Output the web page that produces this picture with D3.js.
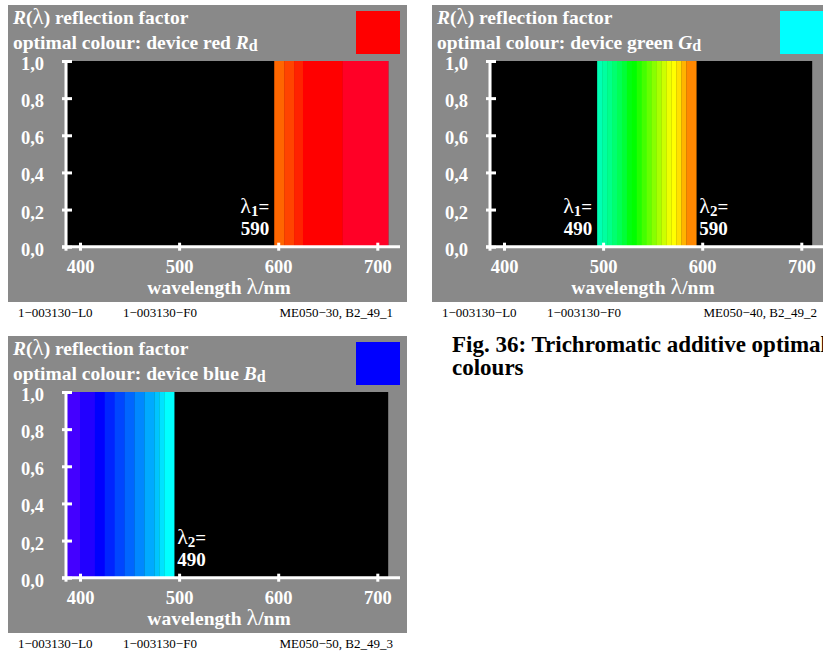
<!DOCTYPE html>
<html><head><meta charset="utf-8">
<script src="https://cdn.jsdelivr.net/npm/d3@7"></script>
<style>body{margin:0;background:#fff;overflow:hidden}svg{display:block}</style>
</head><body><svg id="c" width="823" height="652"></svg>
<script>
// ---- data ----
const wavelengthTicks = [400, 500, 600, 700];
const reflectanceTicks = [0, 0.2, 0.4, 0.6, 0.8, 1.0];
const reflectanceTickLabels = ["0,0", "0,2", "0,4", "0,6", "0,8", "1,0"];
const spectrumRange = [387, 711];

const redEdges = [596, 606, 616, 625, 665, 711];
const redColors = ["#ff6600", "#ff4400", "#ff2200", "#ff0000", "#ff0026"];
const redValues = [1, 1, 1, 1, 1];

const greenEdges = [494, 499, 504, 509, 514, 519, 524, 529, 534, 539, 544, 549, 554, 559, 564, 569, 574, 579, 584, 594];
const greenColors = ["#00ffb4", "#00ffa0", "#00ff8a", "#00ff70", "#00ff55", "#00ff38", "#00ff10", "#00ff00", "#22ff00", "#44ff00", "#66ff00", "#88ff00", "#aaff00", "#ccff00", "#eeff00", "#ffff00", "#ffe000", "#ffb400", "#ff8800"];
const greenValues = greenColors.map(() => 1);

const blueEdges = [387, 400, 415, 425, 435, 445, 455, 465, 475, 480, 485, 495];
const blueColors = ["#4400ff", "#2200ff", "#0000ff", "#0024ff", "#0046ff", "#0066ff", "#0088ff", "#00aaff", "#00c4ff", "#00e2ff", "#00ffff"];
const blueValues = blueColors.map(() => 1);

const panels = [
  {ox: 8, oy: 5, name: "red", sym: "R", swatch: "#ff0000", edges: redEdges, colors: redColors, values: redValues,
   labels: [{sub: "1", val: "590", lambda: 596, side: "left"}], code: "ME050\u221230, B2_49_1"},
  {ox: 432, oy: 5, name: "green", sym: "G", swatch: "#00ffff", edges: greenEdges, colors: greenColors, values: greenValues,
   labels: [{sub: "1", val: "490", lambda: 494, side: "left"}, {sub: "2", val: "590", lambda: 594, side: "right"}], code: "ME050\u221240, B2_49_2"},
  {ox: 8, oy: 336, name: "blue", sym: "B", swatch: "#0000ff", edges: blueEdges, colors: blueColors, values: blueValues,
   labels: [{sub: "2", val: "490", lambda: 495, side: "right"}], code: "ME050\u221250, B2_49_3"}
];

const svg = d3.select("#c");
const FONT = "'Liberation Serif','Times New Roman',serif";
const x = d3.scaleLinear().domain([400, 700]).range([72, 369.3]);
const y = d3.scaleLinear().domain([0, 1]).range([241.7, 56]);

panels.forEach(p => {
  const g = svg.append("g").attr("transform", `translate(${p.ox},${p.oy})`);
  g.append("rect").attr("x", 0).attr("y", 0).attr("width", 399).attr("height", 297).attr("fill", "#898989");

  // title
  const t1 = g.append("text").attr("x", 5).attr("y", 19).attr("font-family", FONT).attr("font-weight", "bold")
    .attr("font-size", 19.5).attr("fill", "#fff");
  t1.append("tspan").attr("font-style", "italic").text("R");
  t1.append("tspan").text("(");
  t1.append("tspan").attr("font-size", 23).attr("font-weight", "normal").text("\u03bb");
  t1.append("tspan").text(") reflection factor");
  const t2 = g.append("text").attr("x", 5).attr("y", 44).attr("font-family", FONT).attr("font-weight", "bold")
    .attr("font-size", 19.5).attr("fill", "#fff");
  t2.append("tspan").text(`optimal colour: device ${p.name} `);
  t2.append("tspan").attr("font-style", "italic").text(p.sym);
  t2.append("tspan").attr("font-size", 16).attr("dy", 2).text("d");

  g.append("rect").attr("x", 348).attr("y", 6).attr("width", 44).attr("height", 43).attr("fill", p.swatch);

  // plot background
  g.append("rect").attr("x", x(spectrumRange[0])).attr("y", y(1))
    .attr("width", x(spectrumRange[1]) - x(spectrumRange[0])).attr("height", y(0) - y(1)).attr("fill", "#000");

  // bands
  const bands = p.colors.map((c, i) => ({x0: p.edges[i], x1: p.edges[i + 1], v: p.values[i], c}));
  g.selectAll("rect.band").data(bands).join("rect").attr("class", "band")
    .attr("x", d => x(d.x0)).attr("width", d => x(d.x1) - x(d.x0) + 0.3)
    .attr("y", d => y(d.v)).attr("height", d => y(0) - y(d.v)).attr("fill", d => d.c);

  // axes
  const xa = g.append("g").attr("transform", `translate(0,${y(0)})`)
    .call(d3.axisBottom(x).tickValues(wavelengthTicks).tickSize(4).tickPadding(14).tickFormat(d3.format("d")));
  xa.select(".domain").remove();
  xa.selectAll(".tick line").attr("y1", -4).attr("y2", 4).attr("stroke", "#fff").attr("stroke-width", 3);
  xa.selectAll(".tick text").attr("font-family", FONT).attr("font-weight", "bold").attr("font-size", 18.5)
    .attr("fill", "#fff").attr("dy", 0).attr("y", 26);

  const ya = g.append("g").attr("transform", `translate(58,0)`)
    .call(d3.axisLeft(y).tickValues(reflectanceTicks).tickSize(4).tickFormat((d, i) => reflectanceTickLabels[i]));
  ya.select(".domain").remove();
  ya.selectAll(".tick line").attr("x1", -4).attr("x2", 6).attr("stroke", "#fff").attr("stroke-width", 3);
  ya.selectAll(".tick text").attr("font-family", FONT).attr("font-weight", "bold").attr("font-size", 18.5)
    .attr("fill", "#fff").attr("x", -22).attr("dy", 8.5);

  g.append("line").attr("x1", 54).attr("x2", 392).attr("y1", y(0)).attr("y2", y(0)).attr("stroke", "#fff").attr("stroke-width", 3);
  g.append("line").attr("x1", 58).attr("x2", 58).attr("y1", y(1) - 1).attr("y2", y(0) + 4).attr("stroke", "#fff").attr("stroke-width", 3);

  const xl = g.append("text").attr("x", 211).attr("y", 289).attr("text-anchor", "middle").attr("font-family", FONT)
    .attr("font-weight", "bold").attr("font-size", 19.5).attr("fill", "#fff");
  xl.append("tspan").text("wavelength ");
  xl.append("tspan").attr("font-size", 24).attr("font-weight", "normal").text("\u03bb");
  xl.append("tspan").text("/nm");

  // band labels
  p.labels.forEach(l => {
    const lx = l.side === "left" ? x(l.lambda) - 5 : x(l.lambda) + 3;
    const anchor = l.side === "left" ? "end" : "start";
    const a = g.append("text").attr("x", lx).attr("y", 208).attr("text-anchor", anchor).attr("font-family", FONT)
      .attr("font-weight", "bold").attr("font-size", 19).attr("fill", "#fff");
    a.append("tspan").attr("font-size", 22).attr("font-weight", "normal").text("\u03bb");
    a.append("tspan").attr("font-size", 15).attr("dy", 3).text(l.sub);
    a.append("tspan").attr("dy", -3).text("=");
    g.append("text").attr("x", lx).attr("y", 230).attr("text-anchor", anchor).attr("font-family", FONT)
      .attr("font-weight", "bold").attr("font-size", 19).attr("fill", "#fff").text(l.val);
  });

  // footer
  const f = g.append("g").attr("font-family", FONT).attr("font-size", 13).attr("fill", "#000");
  f.append("text").attr("x", 10).attr("y", 312).text("1\u2212003130\u2212L0");
  f.append("text").attr("x", 115).attr("y", 312).text("1\u2212003130\u2212F0");
  f.append("text").attr("x", 385).attr("y", 312).attr("text-anchor", "end").text(p.code);
});

const cap = svg.append("text").attr("font-family", FONT).attr("font-weight", "bold").attr("font-size", 23).attr("fill", "#000");
cap.append("tspan").attr("x", 452).attr("y", 352).text("Fig. 36: Trichromatic additive optimal");
cap.append("tspan").attr("x", 452).attr("y", 375).text("colours");
</script></body></html>
